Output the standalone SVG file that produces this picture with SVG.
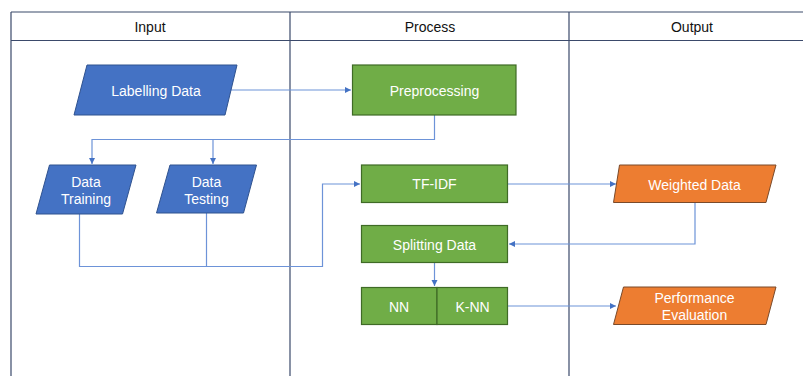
<svg xmlns="http://www.w3.org/2000/svg" width="803" height="376" viewBox="0 0 803 376">
<style>
text{font-family:"Liberation Sans",Arial,sans-serif;font-size:14px;text-anchor:middle;dominant-baseline:central}
.hdr{fill:#111}
.lbl{fill:#fff}
.lane{stroke:#3b4a6b;stroke-width:1.2;fill:none}
.blue{fill:#4472C4;stroke:#2F528F;stroke-width:1}
.green{fill:#70AD47;stroke:#3f6b26;stroke-width:1.2}
.orange{fill:#ED7D31;stroke:#7a4a2a;stroke-width:1}
.conn{stroke:#6d93d8;stroke-width:1.2;fill:none}
</style>
<defs>
<marker id="arr" markerWidth="8" markerHeight="8" refX="6" refY="3" orient="auto" markerUnits="userSpaceOnUse">
<path d="M0,0 L6,3 L0,6 Z" fill="#4472C4"/>
</marker>
</defs>
<rect width="803" height="376" fill="#fff"/>
<g id="lanes">
<path class="lane" d="M11,12 H803 M11,40.5 H803 M11,12 V376 M290,12 V376 M569,12 V376"/>
<text class="hdr" x="150" y="26.5">Input</text>
<text class="hdr" x="430" y="26.5">Process</text>
<text class="hdr" x="692" y="26.5">Output</text>
</g>
<g id="connectors">
<path class="conn" d="M231,90 H351" marker-end="url(#arr)"/>
<path class="conn" d="M434.5,115 V139.5 H92 V164" marker-end="url(#arr)"/>
<path class="conn" d="M213,139.5 V164" marker-end="url(#arr)"/>
<path class="conn" d="M79.5,214 V266.5 H322.5 V184 H360" marker-end="url(#arr)"/>
<path class="conn" d="M206.5,213 V266.5"/>
<path class="conn" d="M508,184 H616" marker-end="url(#arr)"/>
<path class="conn" d="M695,203 V244 H509" marker-end="url(#arr)"/>
<path class="conn" d="M434.5,263 V286" marker-end="url(#arr)"/>
<path class="conn" d="M508,306 H616" marker-end="url(#arr)"/>
</g>
<g id="labelling-data">
<path class="blue" d="M87,65 H237 L225,115 H74 Z"/>
<text class="lbl" x="156" y="90.5">Labelling Data</text>
</g>
<g id="data-training">
<path class="blue" d="M49.5,165 H136 L122.5,214 H36 Z"/>
<text class="lbl" x="86" y="182">Data</text>
<text class="lbl" x="86" y="199">Training</text>
</g>
<g id="data-testing">
<path class="blue" d="M170,165 H256.5 L243.5,213 H156.5 Z"/>
<text class="lbl" x="206.5" y="182">Data</text>
<text class="lbl" x="206.5" y="199">Testing</text>
</g>
<g id="preprocessing">
<rect class="green" x="352.5" y="65" width="163.5" height="50"/>
<text class="lbl" x="434.5" y="90.5">Preprocessing</text>
</g>
<g id="tf-idf">
<rect class="green" x="361.5" y="165" width="146" height="37.5"/>
<text class="lbl" x="434.5" y="184">TF-IDF</text>
</g>
<g id="splitting-data">
<rect class="green" x="361.5" y="225.5" width="146" height="37"/>
<text class="lbl" x="434.5" y="244.5">Splitting Data</text>
</g>
<g id="nn">
<rect class="green" x="361.5" y="287.5" width="75.5" height="37"/>
<text class="lbl" x="399" y="306.5">NN</text>
</g>
<g id="k-nn">
<rect class="green" x="437" y="287.5" width="70.5" height="37"/>
<text class="lbl" x="472.5" y="306.5">K-NN</text>
</g>
<g id="weighted-data">
<path class="orange" d="M619.5,165 H776 L766,202.5 H613.5 Z"/>
<text class="lbl" x="694.5" y="184.5">Weighted Data</text>
</g>
<g id="performance-evaluation">
<path class="orange" d="M623.5,287 H776 L766,324.5 H613.5 Z"/>
<text class="lbl" x="694.5" y="297.5">Performance</text>
<text class="lbl" x="694.5" y="315">Evaluation</text>
</g>
</svg>
